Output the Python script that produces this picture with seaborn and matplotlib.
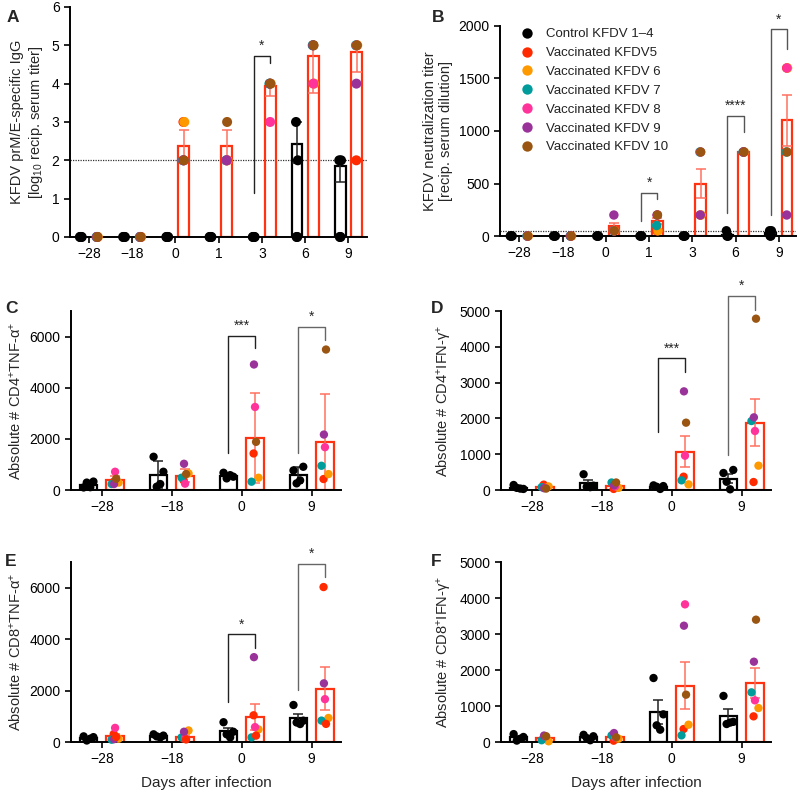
import numpy as np
import pandas as pd
import matplotlib
matplotlib.use('Agg')
import matplotlib.pyplot as plt
import seaborn as sns

sns.set_theme(style='ticks')
plt.rcParams['font.family'] = ['Liberation Sans', 'DejaVu Sans']
plt.rcParams['mathtext.fontset'] = 'custom'
plt.rcParams['mathtext.rm'] = 'Liberation Sans'
plt.rcParams['mathtext.it'] = 'Liberation Sans:italic'
plt.rcParams['mathtext.default'] = 'regular'

# ---- data ----
animals = ['Control KFDV 1–4', 'Vaccinated KFDV5', 'Vaccinated KFDV 6', 'Vaccinated KFDV 7',
           'Vaccinated KFDV 8', 'Vaccinated KFDV 9', 'Vaccinated KFDV 10']
animal_colors = ['#000000', '#ff2a00', '#ff9900', '#009b9b', '#ff3399', '#993399', '#995511']

days_ab = ['\u221228', '\u221218', '0', '1', '3', '6', '9']
days_cf = ['\u221228', '\u221218', '0', '9']

# A: log10 prM/E IgG titer (control animals 1-4, vaccinated animals 5-10)
a_ctrl = [[0, 0, 0, 0], [0, 0, 0, 0], [0, 0, 0, 0], [0, 0, 0, 0], [0, 0, 0, 0],
          [3, 2, 0, 0], [2, 2, 0, 0]]
a_vacc = [[0, 0, 0, 0, 0, 0], [0, 0, 0, 0, 0, 0], [3, 3, 2, 2, 2, 2], [2, 2, 2, 2, 2, 3],
          [4, 4, 4, 3, 4, 4], [5, 4, 5, 4, 5, 5], [2, 5, 5, 5, 4, 5]]
a_ctrl_mean = [0, 0, 0, 0, 0, 2.43, 1.86]
a_ctrl_lo = [0, 0, 0, 0, 0, 0.50, 0.43]
a_ctrl_hi = [0, 0, 0, 0, 0, 0.57, 0.14]
a_vacc_mean = [0, 0, 2.38, 2.38, 3.93, 4.73, 4.83]
a_vacc_lo = [0, 0, 0.38, 0.38, 0.24, 0.97, 0.53]
a_vacc_hi = [0, 0, 0.41, 0.41, 0.10, 0.22, 0.20]

# B: neutralization titer
b_ctrl = [[0, 0, 0, 0], [0, 0, 0, 0], [0, 0, 0, 0], [0, 0, 0, 0], [0, 0, 0, 0],
          [50, 0, 0, 0], [50, 50, 0, 0]]
b_vacc = [[0, 0, 0, 0, 0, 0], [0, 0, 0, 0, 0, 0], [50, 50, 50, 50, 200, 50],
          [50, 50, 100, 200, 200, 200], [200, 200, 800, 800, 200, 800],
          [800, 800, 800, 800, 800, 800], [1600, 1600, 800, 1600, 200, 800]]
b_ctrl_mean = [0, 0, 0, 0, 0, 12, 25]
b_ctrl_err = [0, 0, 0, 0, 0, 0, 0]
b_vacc_mean = [0, 0, 92, 140, 500, 800, 1100]
b_vacc_err = [0, 0, 35, 30, 134, 0, 241]

# C: CD4+ TNF-a+
c_ctrl = [[100, 330, 290, 110], [1300, 714, 130, 234], [675, 520, 455, 580], [766, 909, 260, 377]]
c_vacc = [[325, 290, 234, 714, 234, 440], [377, 650, 480, 247, 1026, 623],
          [1429, 480, 325, 3247, 4909, 1883], [429, 623, 948, 1675, 2169, 5494]]
c_ctrl_mean = [210, 595, 557, 578]
c_ctrl_err = [120, 535, 95, 312]
c_vacc_mean = [372, 567, 2045, 1890]
c_vacc_err = [186, 268, 1758, 1880]

# D: CD4+ IFN-g+
d_ctrl = [[140, 30, 60, 40], [440, 120, 90, 80], [130, 110, 90, 30], [475, 560, 230, 20]]
d_vacc = [[150, 100, 80, 60, 50, 40], [30, 60, 210, 100, 130, 210],
          [372, 158, 270, 959, 2756, 1881], [223, 680, 1927, 1648, 2030, 4786]]
d_ctrl_mean = [68, 183, 90, 321]
d_ctrl_err = [25, 85, 20, 123]
d_vacc_mean = [80, 123, 1066, 1882]
d_vacc_err = [20, 30, 430, 650]

# E: CD8+ TNF-a+
e_ctrl = [[220, 190, 60, 130], [300, 250, 220, 180], [770, 400, 300, 180], [1440, 830, 760, 700]]
e_vacc = [[310, 130, 90, 550, 110, 200], [130, 450, 180, 150, 400, 100],
          [1040, 490, 180, 580, 3300, 250], [6026, 936, 833, 1667, 2282, 705]]
e_ctrl_mean = [150, 240, 412, 932]
e_ctrl_err = [40, 25, 127, 171]
e_vacc_mean = [232, 200, 973, 2075]
e_vacc_err = [70, 60, 500, 840]

# F: CD8+ IFN-g+
f_ctrl = [[220, 140, 40, 90], [200, 160, 110, 50], [1778, 769, 463, 343], [1280, 560, 500, 540]]
f_vacc = [[120, 20, 50, 160, 180, 160], [37, 93, 185, 130, 250, 130],
          [361, 481, 185, 3824, 3231, 1315], [713, 944, 1380, 1157, 2231, 3398]]
f_ctrl_mean = [130, 130, 838, 720]
f_ctrl_err = [40, 30, 326, 190]
f_vacc_mean = [115, 137, 1566, 1637]
f_vacc_err = [30, 35, 650, 410]

# ---- style ----
BAR_RED = '#ff3311'
ERR_RED = '#ff7060'
OFF = 0.19
ctrl_jit = [-0.07, 0.07, -0.025, 0.025]
vacc_jit = [-0.02, 0.05, -0.05, 0.0, -0.015, 0.015]
palette = dict(zip(animals, animal_colors))


def points_frame(days, ctrl, vacc, spread):
    rows = []
    for i, d in enumerate(days):
        for k, v in enumerate(ctrl[i]):
            rows.append(dict(day=d, animal=animals[0], value=v, xpos=i - OFF + spread * ctrl_jit[k]))
    for i, d in enumerate(days):
        for k, v in enumerate(vacc[i]):
            rows.append(dict(day=d, animal=animals[k + 1], value=v, xpos=i + OFF + spread * vacc_jit[k]))
    return pd.DataFrame(rows)


def panel(ax, days, ctrl, vacc, ctrl_mean, ctrl_err, vacc_mean, vacc_err,
          spread=1.0, dot=36, pal=palette, legend=False):
    bars = pd.DataFrame({'day': days * 2,
                         'group': ['ctrl'] * len(days) + ['vacc'] * len(days),
                         'mean': list(ctrl_mean) + list(vacc_mean)})
    sns.barplot(data=bars, x='day', y='mean', hue='group', order=days,
                hue_order=['ctrl', 'vacc'], palette={'ctrl': 'black', 'vacc': BAR_RED},
                fill=False, width=0.76, gap=0.34, linewidth=1.6, errorbar=None,
                legend=False, ax=ax)
    idx = np.arange(len(days))
    ax.errorbar(idx - OFF, ctrl_mean, yerr=ctrl_err, fmt='none', ecolor='#222222',
                elinewidth=1.1, capsize=3.5, capthick=1.1, zorder=2.5)
    ax.errorbar(idx + OFF, vacc_mean, yerr=vacc_err, fmt='none', ecolor=ERR_RED,
                elinewidth=1.1, capsize=3.5, capthick=1.1, zorder=2.5)
    pts = points_frame(days, ctrl, vacc, spread)
    sns.scatterplot(data=pts, x='xpos', y='value', hue='animal', hue_order=animals,
                    palette=pal, s=dot, edgecolor='none', linewidth=0,
                    legend=legend, ax=ax, zorder=3, clip_on=False)
    ax.set_xlabel('')
    for s in ['top', 'right']:
        ax.spines[s].set_visible(False)
    for s in ['left', 'bottom']:
        ax.spines[s].set_linewidth(1.4)
        ax.spines[s].set_color('black')
    ax.tick_params(axis='both', direction='out', length=4.5, width=1.2,
                   labelsize=10, colors='black', pad=3)


def bracket(ax, i, top, left, right, text, color='#222222'):
    xl, xr = i - OFF, i + OFF
    ax.plot([xl, xl, xr, xr], [left, top, top, right], color=color, lw=1.0,
            clip_on=False, zorder=1)
    ax.annotate(text, xy=(i, top), xytext=(0, 2), textcoords='offset points',
                ha='center', va='bottom', fontsize=10, annotation_clip=False)


fig = plt.figure(figsize=(8, 7.92), dpi=100)
axA = fig.add_axes([0.0875, 0.7008, 0.3712, 0.2904])
axB = fig.add_axes([0.625, 0.702, 0.37, 0.2652])
axC = fig.add_axes([0.0888, 0.3813, 0.3375, 0.226])
axD = fig.add_axes([0.6263, 0.3813, 0.3375, 0.226])
axE = fig.add_axes([0.0888, 0.0631, 0.3375, 0.2273])
axF = fig.add_axes([0.6263, 0.0631, 0.3375, 0.2273])

# A
panel(axA, days_ab, a_ctrl, a_vacc, a_ctrl_mean, [a_ctrl_lo, a_ctrl_hi],
      a_vacc_mean, [a_vacc_lo, a_vacc_hi], spread=0.3, dot=52)
axA.axhline(2, ls=(0, (1, 1)), color='#333333', lw=0.9, zorder=0.5)
axA.set_xlim(-0.44, 6.43)
axA.set_ylim(0, 6)
axA.set_yticks(range(0, 7))
axA.set_ylabel('KFDV prM/E-specific IgG\n[log$_{10}$ recip. serum titer]', fontsize=10.5,
               labelpad=5)
bracket(axA, 4, 4.72, 1.14, 4.53, '*')

# B
panel(axB, days_ab, b_ctrl, b_vacc, b_ctrl_mean, b_ctrl_err, b_vacc_mean, b_vacc_err,
      spread=0.3, dot=46, legend=True)
axB.axhline(50, ls=(0, (1, 1)), color='#333333', lw=0.9, zorder=0.5)
axB.set_xlim(-0.45, 6.4)
axB.set_ylim(0, 2000)
axB.set_yticks([0, 500, 1000, 1500, 2000])
axB.set_ylabel('KFDV neutralization titer\n[recip. serum dilution]', fontsize=10.5)
bracket(axB, 3, 412, 146, 350, '*', '#555555')
bracket(axB, 5, 1146, 216, 993, '****', '#555555')
bracket(axB, 6, 1968, 200, 1778, '*', '#555555')
leg = axB.legend(loc='upper left', bbox_to_anchor=(0.03, 1.015), frameon=False,
                 fontsize=9.5, handletextpad=0.4, labelspacing=0.5,
                 markerscale=1.1, borderaxespad=0)
for t in leg.get_texts():
    t.set_color('#222222')

# C
panel(axC, days_cf, c_ctrl, c_vacc, c_ctrl_mean, c_ctrl_err, c_vacc_mean, c_vacc_err)
axC.set_xlim(-0.44, 3.42)
axC.set_ylim(0, 7000)
axC.set_yticks([0, 2000, 4000, 6000])
axC.set_ylabel('Absolute # CD4$^{+}$TNF-$\\alpha^{+}$', fontsize=10.5)
bracket(axC, 2, 6040, 1430, 5545, '***')
bracket(axC, 3, 6390, 1430, 5870, '*', '#666666')

# D
panel(axD, days_cf, d_ctrl, d_vacc, d_ctrl_mean, d_ctrl_err, d_vacc_mean, d_vacc_err)
axD.set_xlim(-0.44, 3.42)
axD.set_ylim(0, 5000)
axD.set_yticks([0, 1000, 2000, 3000, 4000, 5000])
axD.set_ylabel('Absolute # CD4$^{+}$IFN-$\\gamma^{+}$', fontsize=10.5)
bracket(axD, 2, 3678, 1630, 3305, '***')
bracket(axD, 3, 5419, 978, 5028, '*', '#666666')

# E (animal 10 is drawn red in this panel of the source figure)
pal_e = dict(palette)
pal_e['Vaccinated KFDV 10'] = '#ff2a00'
panel(axE, days_cf, e_ctrl, e_vacc, e_ctrl_mean, e_ctrl_err, e_vacc_mean, e_vacc_err, pal=pal_e)
axE.set_xlim(-0.44, 3.42)
axE.set_ylim(0, 7000)
axE.set_yticks([0, 2000, 4000, 6000])
axE.set_ylabel('Absolute # CD8$^{+}$TNF-$\\alpha^{+}$', fontsize=10.5)
axE.set_xlabel('Days after infection', fontsize=11, labelpad=7)
bracket(axE, 2, 4192, 1538, 3654, '*')
bracket(axE, 3, 6923, 2026, 6410, '*', '#666666')

# F
panel(axF, days_cf, f_ctrl, f_vacc, f_ctrl_mean, f_ctrl_err, f_vacc_mean, f_vacc_err)
axF.set_xlim(-0.44, 3.42)
axF.set_ylim(0, 5000)
axF.set_yticks([0, 1000, 2000, 3000, 4000, 5000])
axF.set_ylabel('Absolute # CD8$^{+}$IFN-$\\gamma^{+}$', fontsize=10.5)
axF.set_xlabel('Days after infection', fontsize=11, labelpad=7)

for letter, x, y in [('A', 0.008, 0.988), ('B', 0.54, 0.988), ('C', 0.006, 0.62),
                     ('D', 0.538, 0.62), ('E', 0.006, 0.3), ('F', 0.538, 0.3)]:
    fig.text(x, y, letter, fontsize=12.5, fontweight='bold', va='top', ha='left')

fig.savefig('out.png', dpi=100)
